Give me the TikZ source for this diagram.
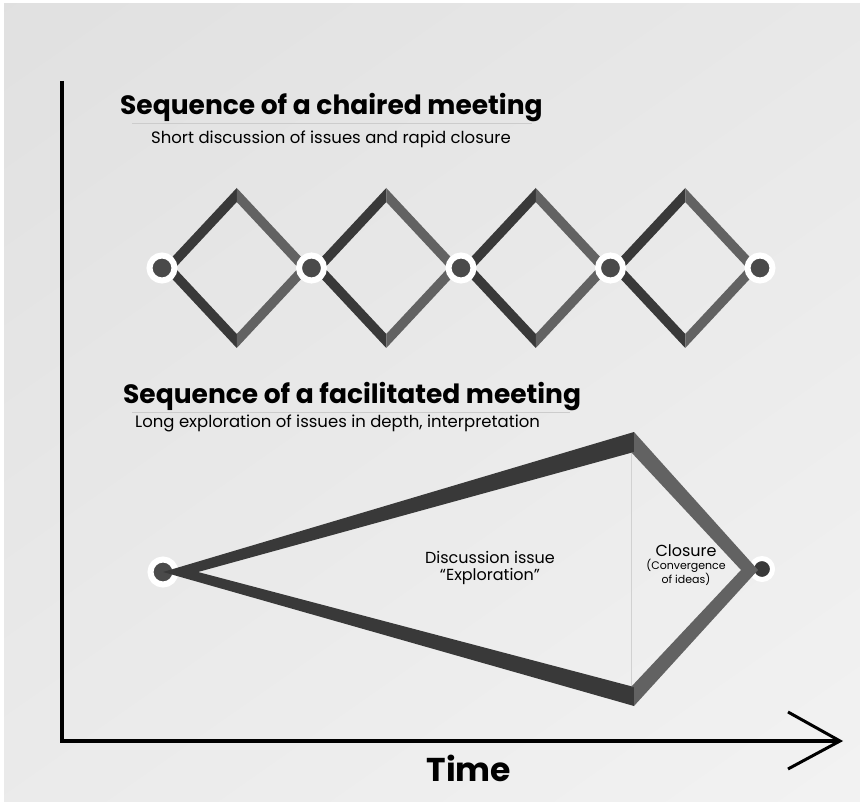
\documentclass[tikz,border=0pt]{standalone}
\usepackage{fontspec}
\setmainfont{Poppins}
\usetikzlibrary{shadings,positioning}
\definecolor{stripdark}{HTML}{393939}
\definecolor{striplight}{HTML}{626262}
\definecolor{dotgray}{HTML}{4A4A4A}
\tikzset{
  dot/.style={circle, inner sep=0pt, minimum size=25pt, fill=dotgray, draw=white, line width=6pt},
  smalldot/.style={dot, minimum size=21pt, line width=5pt, fill=stripdark},
  title/.style={font=\fontsize{26.5}{29}\selectfont\bfseries, inner sep=0pt},
  subtitle/.style={font=\fontsize{16.5}{19}\selectfont, inner sep=0pt},
  rule/.style={draw=black!20, line width=.7pt}
}
\begin{document}
\begin{tikzpicture}[x=1pt, y=-1pt, line join=miter, line cap=butt]
		\useasboundingbox (0,0) rectangle (860,802);
		\shade[upper left=black!12, upper right=black!9, lower left=black!8, lower right=black!5] (4,4) rectangle (860,802);
		% axes
		\coordinate (O) at (62,741); \coordinate (ytop) at (62,81); \coordinate (xend) at (840,741);
		\draw[line width=4pt] (ytop)--(O)--(xend);
		\draw[line width=3pt] (788,712)--(xend)--(788,769);
		\node[font=\fontsize{33}{36}\selectfont\bfseries] (time) at (469,768) {Time};
		% chaired meeting
		\node[title, anchor=base west] (t1) at (120,115) {Sequence of a chaired meeting};
		\draw[rule] (132,123)--(532,123);
		\node[subtitle, anchor=base] (s1) at (331,144) {Short discussion of issues and rapid closure};
		\def\dx{149.5}
		\foreach \i in {0,...,3}{
			\pgfmathsetmacro\xl{162+\dx*\i} \pgfmathsetmacro\xm{\xl+\dx/2} \pgfmathsetmacro\xr{\xl+\dx}
			\fill[stripdark] (\xl,268)--(\xm,188)--(\xm,202)--(\xl,282)--cycle (\xl,268)--(\xm,348)--(\xm,334)--(\xl,254)--cycle;
			\fill[striplight] (\xm,188)--(\xr,268)--(\xr,282)--(\xm,202)--cycle (\xm,348)--(\xr,268)--(\xr,254)--(\xm,334)--cycle;
		}
		\foreach \i in {0,...,4} \node[dot] (c\i) at (162+\dx*\i,268) {};
		% facilitated meeting
		\node[title, anchor=base west] (t2) at (123,403) {Sequence of a facilitated meeting};
		\draw[rule] (132,412)--(570,412);
		\node[subtitle, anchor=base west] (s2) at (135,428) {Long exploration of issues in depth, interpretation};
		\node[dot] (f0) at (163,572) {};
		\node[smalldot] (f1) at (762,569) {};
		\coordinate (top) at (634,432); \coordinate (bot) at (634,706);
		\draw[black!18, line width=.8pt] (631,452)--(631,687);
		\fill[stripdark] (f0.center)--(top)--(634,452)--(198,572)--cycle (f0.center)--(bot)--(634,687)--(198,572)--cycle;
		\fill[striplight] (top)--(758,570)--(741,570)--(631,452)--(634,452)--cycle (bot)--(758,570)--(741,570)--(631,687)--(634,687)--cycle;
		\node[subtitle, align=center, font=\fontsize{16}{17}\selectfont] (expl) at (490,568) {Discussion issue\\``Exploration''};
		\node[subtitle, font=\fontsize{16}{17}\selectfont] (clos) at (686,551) {Closure};
		\node[align=center, inner sep=0pt, font=\fontsize{11}{11.5}\selectfont, below=2pt of clos.south] (conv) {(Convergence\\of ideas)};
	\end{tikzpicture}
\end{document}
